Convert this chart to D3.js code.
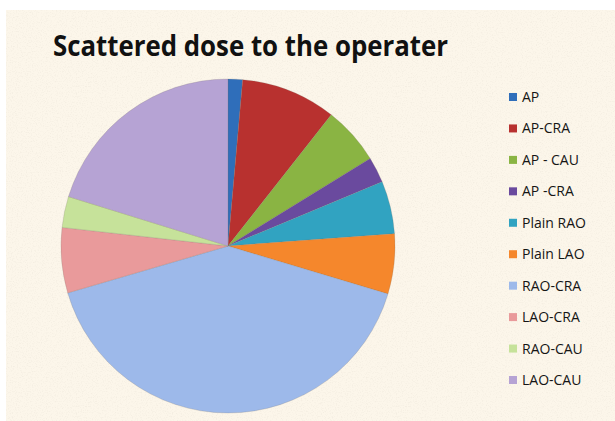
<!DOCTYPE html>
<html>
<head>
<meta charset="utf-8">
<script src="https://cdn.jsdelivr.net/npm/d3@7"></script>
<style>
  body { margin: 0; background: #fff; }
  #chart { width: 615px; height: 421px; }
</style>
</head>
<body>
<div id="chart"></div>
<script>
// slice names and shares (%)
var categories = ["AP", "AP-CRA", "AP - CAU", "AP -CRA", "Plain RAO", "Plain LAO",
                  "RAO-CRA", "LAO-CRA", "RAO-CAU", "LAO-CAU"];
var doseShare = [1.4, 9.2, 5.6, 2.5, 5.1, 5.8, 40.8, 6.3, 3.0, 20.2];
var sliceColors = ["#2F6EBA", "#B8312F", "#8AB443", "#6A4A9E", "#31A3C1", "#F5872C",
                   "#9DB9EA", "#E99A9B", "#C6E29A", "#B6A3D4"];

var w = 615, h = 421;

var svg = d3.select("#chart").append("svg")
    .attr("width", w)
    .attr("height", h);

// paper-like background with a little speckle
var defs = svg.append("defs");
var f = defs.append("filter").attr("id", "speckle")
    .attr("x", 0).attr("y", 0).attr("width", "100%").attr("height", "100%");
f.append("feTurbulence").attr("type", "fractalNoise")
    .attr("baseFrequency", 0.8).attr("numOctaves", 2).attr("seed", 3).attr("result", "n");
f.append("feColorMatrix").attr("in", "n").attr("type", "matrix")
    .attr("values", "0 0 0 0 0.60  0 0 0 0 0.55  0 0 0 0 0.48  0 0 0 -3 1.55");
f.append("feComposite").attr("in2", "SourceGraphic").attr("operator", "in");

svg.append("rect")
    .attr("x", 6).attr("y", 10)
    .attr("width", w - 6).attr("height", h - 10)
    .attr("fill", "#FCF6EA");
svg.append("rect")
    .attr("x", 6).attr("y", 10)
    .attr("width", w - 6).attr("height", h - 10)
    .attr("fill", "#FCF6EA")
    .attr("filter", "url(#speckle)")
    .attr("opacity", 0.15);

// title
svg.append("text")
    .attr("x", 53).attr("y", 56)
    .attr("font-family", "'Open Sans', Lato, sans-serif")
    .attr("font-weight", "bold")
    .attr("font-size", 29)
    .attr("fill", "#111")
    .attr("textLength", 395)
    .attr("lengthAdjust", "spacingAndGlyphs")
    .text("Scattered dose to the operater");

// pie
var data = categories.map(function (c, i) {
    return { name: c, value: doseShare[i], color: sliceColors[i] };
});

var pie = d3.pie().sort(null).value(function (d) { return d.value; });
var arc = d3.arc().innerRadius(0).outerRadius(167);

var g = svg.append("g").attr("transform", "translate(228,246)");
g.selectAll("path")
    .data(pie(data))
    .enter()
    .append("path")
    .attr("d", arc)
    .attr("fill", function (d) { return d.data.color; })
    .attr("stroke", "rgba(120,110,100,0.35)")
    .attr("stroke-width", 0.6);

// legend
var legendY = d3.scalePoint().domain(categories).range([97, 380]);

var legend = svg.append("g");
var rows = legend.selectAll("g")
    .data(data)
    .enter()
    .append("g")
    .attr("transform", function (d) { return "translate(509," + legendY(d.name) + ")"; });

rows.append("rect")
    .attr("x", 0).attr("y", -4)
    .attr("width", 8).attr("height", 8)
    .attr("fill", function (d) { return d.color; });

rows.append("text")
    .attr("x", 13).attr("y", 5)
    .attr("font-family", "'Open Sans', Lato, sans-serif")
    .attr("font-weight", 500)
    .attr("font-size", 14)
    .attr("fill", "#151515")
    .text(function (d) { return d.name; });
</script>
</body>
</html>
